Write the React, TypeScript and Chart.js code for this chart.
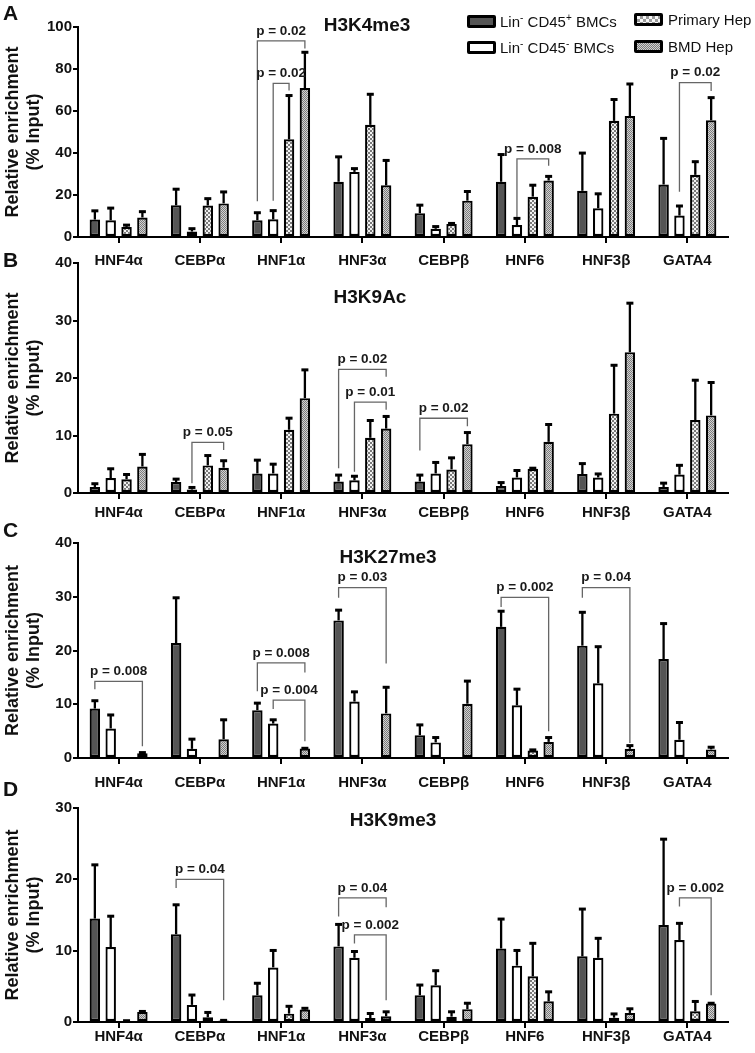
import React, { useEffect, useRef } from 'react';
import { Chart, registerables } from 'chart.js';

Chart.register(...registerables);

const FONT = '"Liberation Sans", Arial, Helvetica, sans-serif';

const categories = ['HNF4α', 'CEBPα', 'HNF1α', 'HNF3α', 'CEBPβ', 'HNF6', 'HNF3β', 'GATA4'];
const seriesLabels = ['Lin- CD45+ BMCs', 'Lin- CD45- BMCs', 'Primary Hep', 'BMD Hep'];

// ---- Panel A: H3K4me3 ----
const aCd45Pos = [8.3, 15.1, 8.0, 26.3, 11.3, 26.3, 22.0, 25.0];
const aCd45PosErr = [4.4, 7.9, 3.8, 12.1, 4.1, 13.2, 18.2, 22.2];
const aCd45Neg = [8.0, 2.6, 8.4, 31.0, 3.9, 5.7, 13.7, 10.2];
const aCd45NegErr = [6.0, 1.6, 4.4, 1.8, 1.3, 3.4, 7.1, 4.8];
const aPrimary = [4.8, 15.0, 46.5, 53.4, 6.2, 19.2, 55.3, 29.6];
const aPrimaryErr = [1.1, 3.5, 21.1, 14.8, 0.5, 5.7, 10.4, 6.5];
const aBmd = [9.3, 16.0, 70.9, 24.6, 17.3, 26.9, 57.6, 55.6];
const aBmdErr = [3.0, 5.7, 17.3, 12.1, 4.6, 2.2, 15.5, 11.0];

// ---- Panel B: H3K9Ac ----
const bCd45Pos = [1.05, 1.9, 3.4, 2.0, 2.0, 1.2, 3.3, 1.05];
const bCd45PosErr = [0.65, 0.6, 2.4, 1.2, 1.2, 0.7, 1.9, 0.75];
const bCd45Neg = [2.6, 0.6, 3.4, 2.2, 3.4, 2.7, 2.7, 3.2];
const bCd45NegErr = [1.7, 0.45, 1.7, 0.8, 2.0, 1.3, 0.7, 1.7];
const bPrimary = [2.4, 4.8, 11.0, 9.6, 4.1, 4.2, 13.8, 12.7];
const bPrimaryErr = [0.9, 1.8, 2.1, 3.1, 2.1, 0.2, 8.5, 7.0];
const bBmd = [4.6, 4.4, 16.5, 11.2, 8.5, 8.9, 24.5, 13.5];
const bBmdErr = [2.2, 1.3, 5.0, 2.2, 2.1, 3.1, 8.6, 5.8];

// ---- Panel C: H3K27me3 ----
const cCd45Pos = [9.2, 21.4, 8.9, 25.6, 4.25, 24.4, 20.9, 18.4];
const cCd45PosErr = [1.55, 8.5, 1.4, 2.0, 2.0, 3.0, 6.3, 6.7];
const cCd45Neg = [5.5, 1.7, 6.4, 10.5, 2.9, 9.8, 13.9, 3.4];
const cCd45NegErr = [2.6, 1.9, 0.8, 1.9, 1.0, 3.1, 6.9, 3.3];
const cPrimary = [0.1, 0.1, 0.1, 0.1, 0.1, 1.4, 0.1, 0.1];
const cPrimaryErr = [0, 0, 0, 0, 0, 0.2, 0, 0];
const cBmd = [0.9, 3.5, 1.75, 8.3, 10.1, 3.0, 1.7, 1.6];
const cBmdErr = [0.2, 3.7, 0.15, 4.95, 4.3, 0.9, 0.7, 0.5];

// ---- Panel D: H3K9me3 ----
const dCd45Pos = [14.5, 12.3, 3.75, 10.6, 3.75, 10.3, 9.2, 13.6];
const dCd45PosErr = [7.6, 4.2, 1.75, 3.15, 1.5, 4.2, 6.7, 12.1];
const dCd45Neg = [10.5, 2.4, 7.65, 9.0, 5.16, 7.9, 9.0, 11.5];
const dCd45NegErr = [4.4, 1.45, 2.45, 0.95, 2.1, 2.2, 2.8, 2.4];
const dPrimary = [0.15, 0.66, 1.17, 0.56, 0.75, 6.4, 0.6, 1.5];
const dPrimaryErr = [0.1, 0.75, 1.1, 0.7, 0.75, 4.7, 0.6, 1.45];
const dBmd = [1.4, 0.2, 1.74, 0.8, 1.8, 2.9, 1.27, 2.6];
const dBmdErr = [0.15, 0.1, 0.25, 0.7, 0.9, 1.4, 0.65, 0.1];

type Bracket = { cat: number; from: number; to: number; top: number; left: number; right: number; label: string };

const aBrackets: Bracket[] = [
  { cat: 2, from: 0, to: 3, top: 93.4, left: 17, right: 89.8, label: 'p = 0.02' },
  { cat: 2, from: 1, to: 2, top: 73.2, left: 17.3, right: 69.8, label: 'p = 0.02' },
  { cat: 5, from: 1, to: 3, top: 37.2, left: 9.5, right: 33.9, label: 'p = 0.008' },
  { cat: 7, from: 1, to: 3, top: 73.5, left: 21.5, right: 69.5, label: 'p = 0.02' },
];
const bBrackets: Bracket[] = [
  { cat: 1, from: 1, to: 3, top: 8.8, left: 1.7, right: 7.5, label: 'p = 0.05' },
  { cat: 3, from: 0, to: 3, top: 21.5, left: 4.3, right: 20.2, label: 'p = 0.02' },
  { cat: 3, from: 1, to: 3, top: 15.8, left: 3.7, right: 14.5, label: 'p = 0.01' },
  { cat: 4, from: 0, to: 3, top: 13.0, left: 7.4, right: 11.6, label: 'p = 0.02' },
];
const cBrackets: Bracket[] = [
  { cat: 0, from: 0, to: 3, top: 14.25, left: 12.8, right: 2.2, label: 'p = 0.008' },
  { cat: 2, from: 0, to: 3, top: 17.7, left: 12.4, right: 15.9, label: 'p = 0.008' },
  { cat: 2, from: 1, to: 3, top: 10.75, left: 9.1, right: 3.1, label: 'p = 0.004' },
  { cat: 3, from: 0, to: 3, top: 31.7, left: 29.8, right: 17.6, label: 'p = 0.03' },
  { cat: 5, from: 0, to: 3, top: 29.9, left: 28.1, right: 5.0, label: 'p = 0.002' },
  { cat: 6, from: 0, to: 3, top: 31.7, left: 29.8, right: 2.8, label: 'p = 0.04' },
];
const dBrackets: Bracket[] = [
  { cat: 1, from: 0, to: 3, top: 20.0, left: 18.8, right: 3.05, label: 'p = 0.04' },
  { cat: 3, from: 0, to: 3, top: 17.4, left: 14.8, right: 16.1, label: 'p = 0.04' },
  { cat: 3, from: 1, to: 3, top: 12.2, left: 11.0, right: 3.05, label: 'p = 0.002' },
  { cat: 7, from: 1, to: 3, top: 17.4, left: 16.2, right: 3.75, label: 'p = 0.002' },
];

type PanelDef = {
  canvasTop: number;
  canvasHeight: number;
  areaTop: number;
  areaBottom: number;
  yMax: number;
  step: number;
  labelPad: number;
  values: number[][];
  errors: number[][];
  brackets: Bracket[];
};

const panels: PanelDef[] = [
  { canvasTop: 0, canvasHeight: 280, areaTop: 27, areaBottom: 237, yMax: 100, step: 20, labelPad: 9,
    values: [aCd45Pos, aCd45Neg, aPrimary, aBmd], errors: [aCd45PosErr, aCd45NegErr, aPrimaryErr, aBmdErr], brackets: aBrackets },
  { canvasTop: 248, canvasHeight: 282, areaTop: 263, areaBottom: 493, yMax: 40, step: 10, labelPad: 5,
    values: [bCd45Pos, bCd45Neg, bPrimary, bBmd], errors: [bCd45PosErr, bCd45NegErr, bPrimaryErr, bBmdErr], brackets: bBrackets },
  { canvasTop: 520, canvasHeight: 280, areaTop: 543, areaBottom: 758, yMax: 40, step: 10, labelPad: 10,
    values: [cCd45Pos, cCd45Neg, cPrimary, cBmd], errors: [cCd45PosErr, cCd45NegErr, cPrimaryErr, cBmdErr], brackets: cBrackets },
  { canvasTop: 790, canvasHeight: 263, areaTop: 808, areaBottom: 1022, yMax: 30, step: 10, labelPad: 0,
    values: [dCd45Pos, dCd45Neg, dPrimary, dBmd], errors: [dCd45PosErr, dCd45NegErr, dPrimaryErr, dBmdErr], brackets: dBrackets },
];

function makeChecker(ctx: CanvasRenderingContext2D, size: number, dark: string, light: string) {
  const c = document.createElement('canvas');
  c.width = size * 2;
  c.height = size * 2;
  const g = c.getContext('2d')!;
  g.fillStyle = light;
  g.fillRect(0, 0, size * 2, size * 2);
  g.fillStyle = dark;
  g.fillRect(0, 0, size, size);
  g.fillRect(size, size, size, size);
  return ctx.createPattern(c, 'repeat')!;
}

function Panel({ def }: { def: PanelDef }) {
  const ref = useRef<HTMLCanvasElement | null>(null);
  useEffect(() => {
    const canvas = ref.current!;
    const ctx = canvas.getContext('2d')!;
    const fills: any[] = [
      '#555555',
      '#ffffff',
      makeChecker(ctx, 2, '#7a7a7a', '#f2f2f2'),
      makeChecker(ctx, 1, '#7c7c7c', '#d2d2d2'),
    ];

    const errorBarPlugin = {
      id: 'errorBars',
      afterDatasetsDraw(chart: any) {
        const c = chart.ctx;
        const y = chart.scales.y;
        c.save();
        c.strokeStyle = '#000';
        def.values.forEach((vals, i) => {
          const meta = chart.getDatasetMeta(i);
          meta.data.forEach((bar: any, j: number) => {
            const e = def.errors[i][j];
            if (!e || e <= 0) return;
            const x = bar.x;
            const y0 = y.getPixelForValue(vals[j]);
            const y1 = y.getPixelForValue(vals[j] + e);
            c.lineWidth = 2.3;
            c.beginPath();
            c.moveTo(x, y0);
            c.lineTo(x, y1);
            c.stroke();
            c.lineWidth = 3;
            c.beginPath();
            c.moveTo(x - 3.5, y1 + 0.5);
            c.lineTo(x + 3.5, y1 + 0.5);
            c.stroke();
          });
        });
        c.restore();
      },
    };

    const bracketPlugin = {
      id: 'brackets',
      afterDatasetsDraw(chart: any) {
        const c = chart.ctx;
        const y = chart.scales.y;
        c.save();
        def.brackets.forEach((b) => {
          const xL = chart.getDatasetMeta(b.from).data[b.cat].x;
          const xR = chart.getDatasetMeta(b.to).data[b.cat].x;
          const yT = y.getPixelForValue(b.top);
          const yL = y.getPixelForValue(b.left);
          const yR = y.getPixelForValue(b.right);
          c.strokeStyle = '#666';
          c.lineWidth = 1.3;
          c.beginPath();
          c.moveTo(xL, yL);
          c.lineTo(xL, yT);
          c.lineTo(xR, yT);
          c.lineTo(xR, yR);
          c.stroke();
          c.fillStyle = '#1a1a1a';
          c.font = `bold 13.5px ${FONT}`;
          c.textAlign = 'center';
          c.textBaseline = 'middle';
          c.fillText(b.label, (xL + xR) / 2, yT - 10);
        });
        c.restore();
      },
    };

    const chart = new Chart(canvas, {
      type: 'bar',
      data: {
        labels: categories,
        datasets: def.values.map((vals, i) => ({
          label: seriesLabels[i],
          data: vals,
          backgroundColor: fills[i],
          borderColor: '#000',
          borderWidth: 2.2,
          borderSkipped: false,
          categoryPercentage: 0.78,
          barPercentage: 0.66,
        })),
      },
      options: {
        responsive: false,
        animation: false,
        devicePixelRatio: 1,
        layout: { padding: { top: def.areaTop - def.canvasTop, right: 27, left: 0, bottom: 0 } },
        plugins: { legend: { display: false }, tooltip: { enabled: false }, title: { display: false } },
        scales: {
          x: {
            offset: true,
            grid: { display: true, drawOnChartArea: false, drawTicks: true, tickLength: 6, color: '#000', lineWidth: 2, offset: false },
            border: { display: true, color: '#000', width: 2 },
            ticks: { color: '#111', font: { family: FONT, size: 15, weight: 'bold' }, padding: def.labelPad, maxRotation: 0, autoSkip: false },
            afterFit: (s: any) => { s.height = def.canvasTop + def.canvasHeight - def.areaBottom; },
          },
          y: {
            min: 0,
            max: def.yMax,
            ticks: { stepSize: def.step, color: '#111', font: { family: FONT, size: 15, weight: 'bold' }, padding: 1 },
            grid: { display: true, drawOnChartArea: false, drawTicks: true, tickLength: 5, color: '#000', lineWidth: 2 },
            border: { display: true, color: '#000', width: 2 },
            title: {
              display: true,
              text: ['Relative enrichment', '(% Input)'],
              color: '#111',
              font: { family: FONT, size: 18, weight: 'bold' },
              padding: { top: 2, bottom: 0 },
            },
            afterFit: (s: any) => { s.width = 78; },
          },
        },
      } as any,
      plugins: [errorBarPlugin, bracketPlugin],
    });
    return () => chart.destroy();
  }, [def]);
  return (
    <canvas
      ref={ref}
      width={755}
      height={def.canvasHeight}
      style={{ position: 'absolute', left: 0, top: def.canvasTop, width: 755, height: def.canvasHeight }}
    />
  );
}

const panelLetters = [
  { t: 'A', x: 3, y: 12.5 },
  { t: 'B', x: 3, y: 259.5 },
  { t: 'C', x: 3, y: 530 },
  { t: 'D', x: 3, y: 789 },
];
const panelTitles = [
  { t: 'H3K4me3', x: 367, y: 25 },
  { t: 'H3K9Ac', x: 370, y: 297 },
  { t: 'H3K27me3', x: 388, y: 557 },
  { t: 'H3K9me3', x: 393, y: 820 },
];

function Txt({ x, y, size, bold, center, children }: any) {
  return (
    <div
      style={{
        position: 'absolute',
        left: x,
        top: y - size * 0.6,
        height: size * 1.2,
        lineHeight: `${size * 1.2}px`,
        fontSize: size,
        fontWeight: bold ? 'bold' : 'normal',
        whiteSpace: 'nowrap',
        transform: center ? 'translateX(-50%)' : undefined,
        color: '#111',
      }}
    >
      {children}
    </div>
  );
}

const boxBase: React.CSSProperties = {
  position: 'absolute',
  width: 29,
  height: 13,
  border: '3px solid #000',
  borderRadius: 2,
  boxSizing: 'border-box',
};

function Legend() {
  const sup: React.CSSProperties = { fontSize: 10, verticalAlign: 'super', lineHeight: 0 };
  return (
    <>
      <div style={{ ...boxBase, left: 467, top: 15, background: '#555' }} />
      <Txt x={500} y={21.5} size={15}>
        Lin<span style={sup}>-</span> CD45<span style={sup}>+</span> BMCs
      </Txt>
      <div style={{ ...boxBase, left: 467, top: 41, background: '#fff' }} />
      <Txt x={500} y={47.5} size={15}>
        Lin<span style={sup}>-</span> CD45<span style={sup}>-</span> BMCs
      </Txt>
      <div
        style={{
          ...boxBase,
          left: 634,
          top: 13,
          background: 'repeating-conic-gradient(#9a9a9a 0% 25%, #f6f6f6 0% 50%) 0 0 / 6px 6px',
        }}
      />
      <Txt x={668} y={20} size={15}>Primary Hep</Txt>
      <div
        style={{
          ...boxBase,
          left: 634,
          top: 40,
          background: 'repeating-conic-gradient(#7c7c7c 0% 25%, #d2d2d2 0% 50%) 0 0 / 2px 2px',
        }}
      />
      <Txt x={668} y={47} size={15}>BMD Hep</Txt>
    </>
  );
}

export default function App() {
  return (
    <div
      style={{
        position: 'absolute',
        left: 0,
        top: 0,
        width: 755,
        height: 1053,
        background: '#fff',
        fontFamily: FONT,
        overflow: 'hidden',
      }}
    >
      {panels.map((p, i) => (
        <Panel key={i} def={p} />
      ))}
      {panelLetters.map((l) => (
        <Txt key={l.t} x={l.x} y={l.y} size={21} bold>
          {l.t}
        </Txt>
      ))}
      {panelTitles.map((l) => (
        <Txt key={l.t} x={l.x} y={l.y} size={19} bold center>
          {l.t}
        </Txt>
      ))}
      <Legend />
    </div>
  );
}
